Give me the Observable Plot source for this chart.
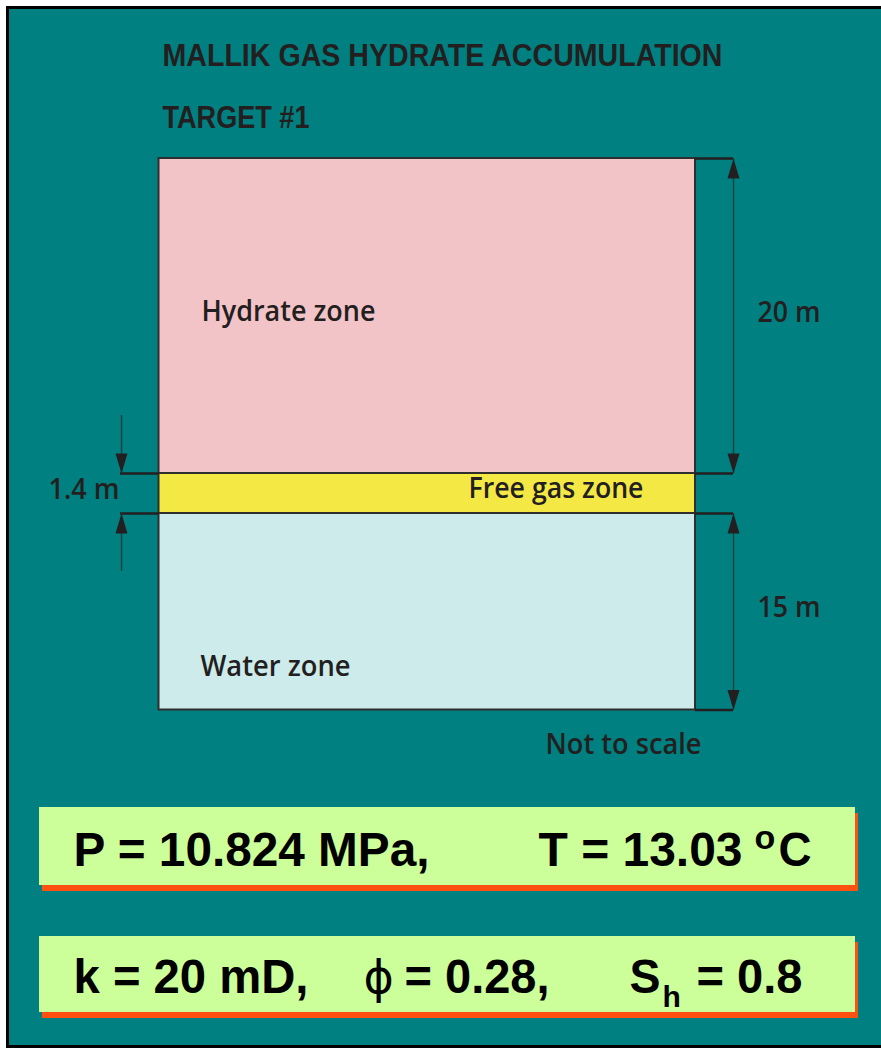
<!DOCTYPE html>
<html><head><meta charset="utf-8">
<script src="https://cdn.jsdelivr.net/npm/d3@7"></script>
<script src="https://cdn.jsdelivr.net/npm/@observablehq/plot@0.6"></script>
<style>html,body{margin:0;padding:0;background:#fff;overflow:hidden}#chart svg{display:block}</style>
</head><body><div id="chart"></div>
<script>
// ---------------- data ----------------
const titleLines = ["MALLIK GAS HYDRATE ACCUMULATION", "TARGET #1"];
const zoneNames = ["Hydrate zone", "Free gas zone", "Water zone"];
const zoneThickness = [20, 1.4, 15];            // metres
const scaleNote = "Not to scale";
const pressure = 10.824, pressureUnit = "MPa";
const temperature = 13.03, degreeMark = "o", temperatureUnit = "C";
const permeability = 20, permeabilityUnit = "mD";
const porositySymbol = "\u03D5", porosity = 0.28;
const saturationSymbol = "S", saturationSub = "h", hydrateSaturation = 0.8;

// ---------------- layout (schematic, not to scale) ----------------
const W = 881, H = 1048;
const colors = {
  teal: "#008080", ink: "#231F20", frame: "#000000",
  zones: ["#F2C4C7", "#F4E845", "#CDEBEB"],
  box: "#CCFF99", shadow: "#FF5010"
};
const column = {x1: 158.5, x2: 695};
const zoneEdges = [158, 473, 513, 709.5];       // drawn boundaries of the schematic column
const rightDimX = 733, leftDimX = 121, extRight = 733, extLeft = 120;
const leftTail = 58;                             // length of the outer arrows for the thin zone
const head = {len: 20, half: 6};
const boxes = [{x1: 39, x2: 855, y1: 807, y2: 885}, {x1: 39, x2: 855, y1: 936, y2: 1012}];
const shadowOffset = {dx: 3, dy: 6};

const zones = zoneNames.map((name, i) => ({
  name, thickness: zoneThickness[i], fill: colors.zones[i],
  top: zoneEdges[i], bottom: zoneEdges[i + 1]
}));

// labels & positions
const headerFont = "'Liberation Sans', Arial, sans-serif";
const labelFont = "'Open Sans', 'Liberation Sans', sans-serif";
const titleTexts = [
  {t: titleLines[0], x: 162, y: 65, len: 560},
  {t: titleLines[1], x: 162, y: 127, len: 147}
];
const zoneTexts = [
  {t: zones[0].name, x: 201, y: 320, len: 174},
  {t: zones[1].name, x: 468, y: 497, len: 175},
  {t: zones[2].name, x: 200, y: 675, len: 150},
  {t: scaleNote, x: 545, y: 753, len: 156},
  {t: `${zones[0].thickness} m`, x: 757, y: 321, len: 63},
  {t: `${zones[1].thickness} m`, x: 48, y: 498, len: 71},
  {t: `${zones[2].thickness} m`, x: 757, y: 616, len: 63}
];
const bigTexts = [
  {t: `P = ${pressure} ${pressureUnit},`, x: 73, y: 865, len: 356},
  {t: `T = ${temperature.toFixed(2)}`, x: 538, y: 865, len: 204},
  {t: temperatureUnit, x: 778, y: 865, len: 33},
  {t: `k = ${permeability} ${permeabilityUnit},`, x: 73, y: 992, len: 235},
  {t: `= ${porosity},`, x: 404, y: 992, len: 145},
  {t: saturationSymbol, x: 629, y: 992, len: 31},
  {t: `= ${hydrateSaturation}`, x: 696, y: 992, len: 106}
];
const smallBoxTexts = [
  {t: degreeMark, x: 754, y: 848, size: 34},
  {t: saturationSub, x: 662, y: 1006, size: 30}
];

// dimension lines
const extLines = [
  {x1: column.x2, x2: extRight, y: zoneEdges[0]},
  {x1: column.x2, x2: extRight, y: zoneEdges[1]},
  {x1: column.x2, x2: extRight, y: zoneEdges[2]},
  {x1: column.x2, x2: extRight, y: zoneEdges[3]},
  {x1: extLeft, x2: column.x1, y: zoneEdges[1]},
  {x1: extLeft, x2: column.x1, y: zoneEdges[2]}
];
const shafts = [
  {x: rightDimX, y1: zoneEdges[0], y2: zoneEdges[1]},
  {x: rightDimX, y1: zoneEdges[2], y2: zoneEdges[3]},
  {x: leftDimX, y1: zoneEdges[1] - leftTail, y2: zoneEdges[1]},
  {x: leftDimX, y1: zoneEdges[2], y2: zoneEdges[2] + leftTail}
];
const heads = [
  {x: rightDimX, y: zoneEdges[0], rot: 0},
  {x: rightDimX, y: zoneEdges[1], rot: 180},
  {x: rightDimX, y: zoneEdges[2], rot: 0},
  {x: rightDimX, y: zoneEdges[3], rot: 180},
  {x: leftDimX, y: zoneEdges[1], rot: 180},
  {x: leftDimX, y: zoneEdges[2], rot: 0}
];
const triangle = {
  draw(ctx, l, r) { ctx.moveTo(0, -l); ctx.lineTo(-r, 0); ctx.lineTo(r, 0); ctx.closePath(); }
};

const plot = Plot.plot({
  width: W, height: H, margin: 0,
  style: {background: "transparent", overflow: "visible"},
  x: {domain: [0, W], range: [0, W], axis: null},
  y: {domain: [0, H], range: [0, H], axis: null},
  marks: [
    // background panel + frame
    Plot.rect([{}], {x1: 7.5, x2: W + 10, y1: 7.5, y2: H - 1.5, fill: colors.teal, stroke: colors.frame, strokeWidth: 3}),
    // zones
    Plot.rect(zones, {x1: column.x1, x2: column.x2, y1: "top", y2: "bottom", fill: "fill", stroke: "#2e2e2e", strokeWidth: 2}),
    // extension lines
    Plot.ruleY(extLines, {y: "y", x1: "x1", x2: "x2", stroke: colors.ink, strokeWidth: 2.5}),
    // arrow shafts
    Plot.ruleX(shafts, {x: "x", y1: "y1", y2: "y2", stroke: "#1f3f3f", strokeWidth: 1.4}),
    // arrow heads
    Plot.vector(heads, {x: "x", y: "y", rotate: "rot", length: head.len, r: head.half, anchor: "end", shape: triangle, fill: colors.ink, stroke: "none"}),
    // titles
    Plot.text(titleTexts, {x: "x", y: "y", text: "t", textAnchor: "start", lineAnchor: "bottom", fontSize: 31, fontWeight: "bold", fontFamily: headerFont, fill: colors.ink}),
    // zone + dimension labels
    Plot.text(zoneTexts, {x: "x", y: "y", text: "t", textAnchor: "start", lineAnchor: "bottom", fontSize: 29, fontWeight: 600, fontFamily: labelFont, fill: colors.ink}),
    // parameter boxes
    Plot.rect(boxes, {x1: (d) => d.x1 + shadowOffset.dx, x2: (d) => d.x2 + shadowOffset.dx, y1: (d) => d.y1 + shadowOffset.dy, y2: (d) => d.y2 + shadowOffset.dy, fill: colors.shadow}),
    Plot.rect(boxes, {x1: "x1", x2: "x2", y1: "y1", y2: "y2", fill: colors.box}),
    Plot.text(bigTexts, {x: "x", y: "y", text: "t", textAnchor: "start", lineAnchor: "bottom", fontSize: 48, fontWeight: "bold", fontFamily: headerFont, fill: "#000"}),
    Plot.text(smallBoxTexts, {x: "x", y: "y", text: "t", textAnchor: "start", lineAnchor: "bottom", fontSize: (d) => d.size, fontWeight: "bold", fontFamily: headerFont, fill: "#000"}),
    Plot.text([{t: porositySymbol}], {x: 363, y: 992, text: "t", textAnchor: "start", lineAnchor: "bottom", fontSize: 46, fontFamily: "'DejaVu Sans', sans-serif", fill: "#000"})
  ]
});

// fit text widths to the reference
const fit = new Map([...titleTexts, ...zoneTexts, ...bigTexts].map((d) => [d.t, d.len]));
d3.select(plot).selectAll("text").each(function () {
  const len = fit.get(this.textContent);
  if (len) { this.setAttribute("textLength", len); this.setAttribute("lengthAdjust", "spacingAndGlyphs"); }
});
document.getElementById("chart").appendChild(plot);
</script>
</body></html>
